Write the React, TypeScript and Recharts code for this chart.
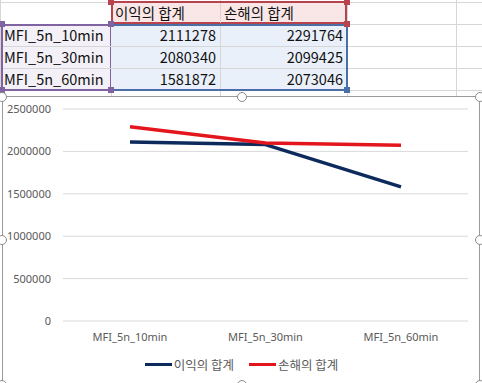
import { CartesianGrid, Legend, Line, LineChart, XAxis, YAxis } from "recharts";

const categories = ["MFI_5n_10min", "MFI_5n_30min", "MFI_5n_60min"];
const seriesNames = ["이익의 합계", "손해의 합계"];
const profitSum = [2111278, 2080340, 1581872];
const lossSum = [2291764, 2099425, 2073046];
const yTicks = [0, 500000, 1000000, 1500000, 2000000, 2500000];
const seriesColors = ["#0c2a5c", "#e3161d"];

const chartData = categories.map((c, i) => ({ name: c, [seriesNames[0]]: profitSum[i], [seriesNames[1]]: lossSum[i] }));

const cjk = "'Noto Sans CJK KR', 'Noto Sans', sans-serif";
const colX = [0, 111, 220, 347, 456, 482];
const rowY = [2, 24, 46, 68, 90];

function Sheet() {
  const cell = (x: number, y: number, w: number, text: string, align: "left" | "right") => (
    <div
      key={`${x}-${y}`}
      style={{
        position: "absolute", left: x, top: y, width: w - 8, height: 22, lineHeight: "22px",
        padding: "0 4px", textAlign: align, fontSize: 14.5, color: "#111", fontFamily: cjk, whiteSpace: "nowrap",
      }}
    >
      {text}
    </div>
  );
  const handle = (x: number, y: number, color: string) => (
    <div key={`h${x}-${y}-${color}`} style={{ position: "absolute", left: x - 3, top: y - 3, width: 6, height: 6, background: color }} />
  );
  return (
    <div style={{ position: "absolute", left: 0, top: 0, width: 482, height: 96 }}>
      {colX.slice(0, 5).map((x) => (
        <div key={`c${x}`} style={{ position: "absolute", left: x, top: 0, width: 1, height: 96, background: "#d6d6d6" }} />
      ))}
      {rowY.map((y) => (
        <div key={`r${y}`} style={{ position: "absolute", left: 0, top: y, width: 482, height: 1, background: "#d6d6d6" }} />
      ))}
      {/* fills */}
      <div style={{ position: "absolute", left: 111, top: 1, width: 236, height: 23, background: "#f9e6e6", border: "2px solid #b8434d", boxSizing: "border-box" }} />
      <div style={{ position: "absolute", left: 220, top: 3, width: 1, height: 20, background: "#e8cccc" }} />
      <div style={{ position: "absolute", left: 1, top: 24, width: 111, height: 67, background: "#f4f0f7", border: "2px solid #8064a2", boxSizing: "border-box" }} />
      <div style={{ position: "absolute", left: 111, top: 24, width: 237, height: 67, background: "#eaf0f9", border: "2px solid #4a6fa8", borderLeft: "none", boxSizing: "border-box" }} />
      {[46, 68].map((y) => (
        <div key={`ir${y}`} style={{ position: "absolute", left: 3, top: y, width: 343, height: 1, background: "#d6d6d6" }} />
      ))}
      <div style={{ position: "absolute", left: 220, top: 26, width: 1, height: 63, background: "#d6d6d6" }} />
      {handle(111, 2, "#b8434d")}
      {handle(347, 2, "#b8434d")}
      {handle(347, 24, "#b8434d")}
      {handle(2, 24, "#8064a2")}
      {handle(111, 24, "#8064a2")}
      {handle(2, 90, "#8064a2")}
      {handle(111, 90, "#8064a2")}
      {handle(347, 90, "#4a6fa8")}
      {cell(111, 2, 109, seriesNames[0], "left")}
      {cell(220, 2, 127, seriesNames[1], "left")}
      {categories.map((c, i) => cell(0, 24 + i * 22, 111, c, "left"))}
      {profitSum.map((v, i) => cell(111, 24 + i * 22, 109, String(v), "right"))}
      {lossSum.map((v, i) => cell(220, 24 + i * 22, 127, String(v), "right"))}
    </div>
  );
}

// legend drawn in series order (recharts was listing them reversed)
function LegendContent() {
  return (
    <div style={{ display: "flex", justifyContent: "center", alignItems: "center", gap: 15, fontFamily: cjk, fontSize: 12.5, color: "#595959" }}>
      {seriesNames.map((s, i) => (
        <div key={s} style={{ display: "flex", alignItems: "center" }}>
          <span style={{ display: "inline-block", width: 27, height: 3, background: seriesColors[i], marginRight: 2 }} />
          <span>{s}</span>
        </div>
      ))}
    </div>
  );
}

export default function App() {
  const handles = [
    [2, 97], [242, 97], [480, 97], [2, 240], [480, 240], [2, 385], [242, 385], [480, 385],
  ];
  return (
    <div style={{ position: "absolute", left: 0, top: 0, width: 482, height: 383, overflow: "hidden", background: "#fff" }}>
      <Sheet />
      <div style={{ position: "absolute", left: 2, top: 96, width: 478, height: 290, background: "#fff", border: "1px solid #9a9a9a", boxSizing: "border-box" }} />
      <div style={{ position: "absolute", left: 3, top: 97 }}>
        <LineChart width={477} height={288} data={chartData} margin={{ top: 12, right: 12, left: 0, bottom: 34 }}>
          <CartesianGrid stroke="#d9d9d9" vertical={false} />
          <XAxis
            dataKey="name"
            axisLine={false}
            tickLine={false}
            padding={{ left: 67, right: 67 }}
            tick={{ fill: "#595959", fontSize: 11, fontFamily: "'Noto Sans', sans-serif" }}
            tickMargin={6}
          />
          <YAxis
            domain={[0, 2500000]}
            ticks={yTicks}
            axisLine={false}
            tickLine={false}
            width={60}
            tickMargin={6}
            tick={{ fill: "#595959", fontSize: 11, fontFamily: "'Noto Sans', sans-serif" }}
          />
          <Legend verticalAlign="middle" align="center" wrapperStyle={{ top: 258, left: 0, width: 477 }} content={<LegendContent />} />
          {seriesNames.map((s, i) => (
            <Line key={s} dataKey={s} stroke={seriesColors[i]} strokeWidth={3.5} dot={false} isAnimationActive={false} strokeLinejoin="round" />
          ))}
        </LineChart>
      </div>
      {handles.map(([x, y]) => (
        <div key={`ch${x}-${y}`} style={{ position: "absolute", left: x - 5, top: y - 5, width: 8, height: 8, borderRadius: "50%", background: "#fff", border: "1px solid #8a8a8a" }} />
      ))}
    </div>
  );
}
